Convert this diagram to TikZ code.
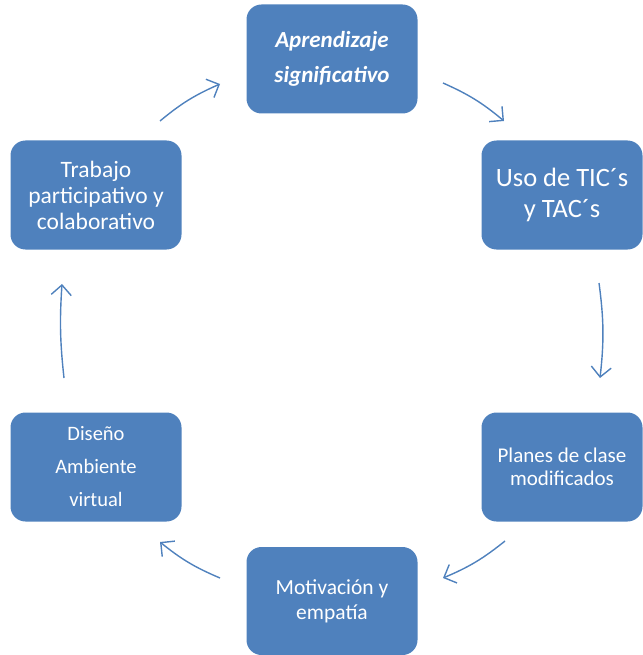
\documentclass[tikz,border=0pt]{standalone}
\usepackage{fontspec}
\setmainfont{Carlito}
\usetikzlibrary{arrows.meta}
\definecolor{cajaazul}{HTML}{4F81BD}
\tikzset{
    caja/.style={fill=cajaazul, rounded corners=15pt, text=white, align=center,
        inner sep=0pt, minimum width=171pt, minimum height=109pt},
    flecha/.style={draw=cajaazul, line width=1.4pt,
        -{Straight Barb[length=10pt, width=20pt, line width=1.4pt]}}
}
\begin{document}
\begin{tikzpicture}[x=1pt, y=-1pt]
        \useasboundingbox (0, 0) rectangle (642, 655);
        \node[caja, font={\fontsize{23}{35}\selectfont\bfseries\itshape}] (apr) at (332, 59) {Aprendizaje\\ significativo};
        \node[caja, minimum width=161pt, font={\fontsize{26.5}{31}\selectfont}] (uso) at (562, 195) {Uso de TIC´s\\ y TAC´s};
        \node[caja, minimum width=161pt, font={\fontsize{21}{23}\selectfont}] (pla) at (562, 467) {Planes de clase\\ modificados};
        \node[caja, minimum height=108pt, font={\fontsize{21.5}{25}\selectfont}] (mot) at (332, 601) {Motivación y\\ empatía};
        \node[caja, font={\fontsize{20.5}{33}\selectfont}] (dis) at (96, 467) {Diseño\\ Ambiente\\ virtual};
        \node[caja, font={\fontsize{23.5}{26}\selectfont}] (tra) at (96, 195) {Trabajo\\ participativo y\\ colaborativo};
        % extremos de las flechas
        \coordinate (a1) at (443, 83);  \coordinate (b1) at (504, 121);
        \coordinate (a2) at (599, 283); \coordinate (b2) at (600, 378);
        \coordinate (a3) at (505, 541); \coordinate (b3) at (443, 578);
        \coordinate (a4) at (220, 578); \coordinate (b4) at (160, 542);
        \coordinate (a5) at (64, 378);  \coordinate (b5) at (62, 284);
        \coordinate (a6) at (160, 121); \coordinate (b6) at (220, 84);
        \draw[flecha] (a1) to[bend left=8] (b1);
        \draw[flecha] (a2) to[bend left=7] (b2);
        \draw[flecha] (a3) to[bend left=8] (b3);
        \draw[flecha] (a4) to[bend left=8] (b4);
        \draw[flecha] (a5) to[bend left=5] (b5);
        \draw[flecha] (a6) to[bend left=8] (b6);
    \end{tikzpicture}
\end{document}
